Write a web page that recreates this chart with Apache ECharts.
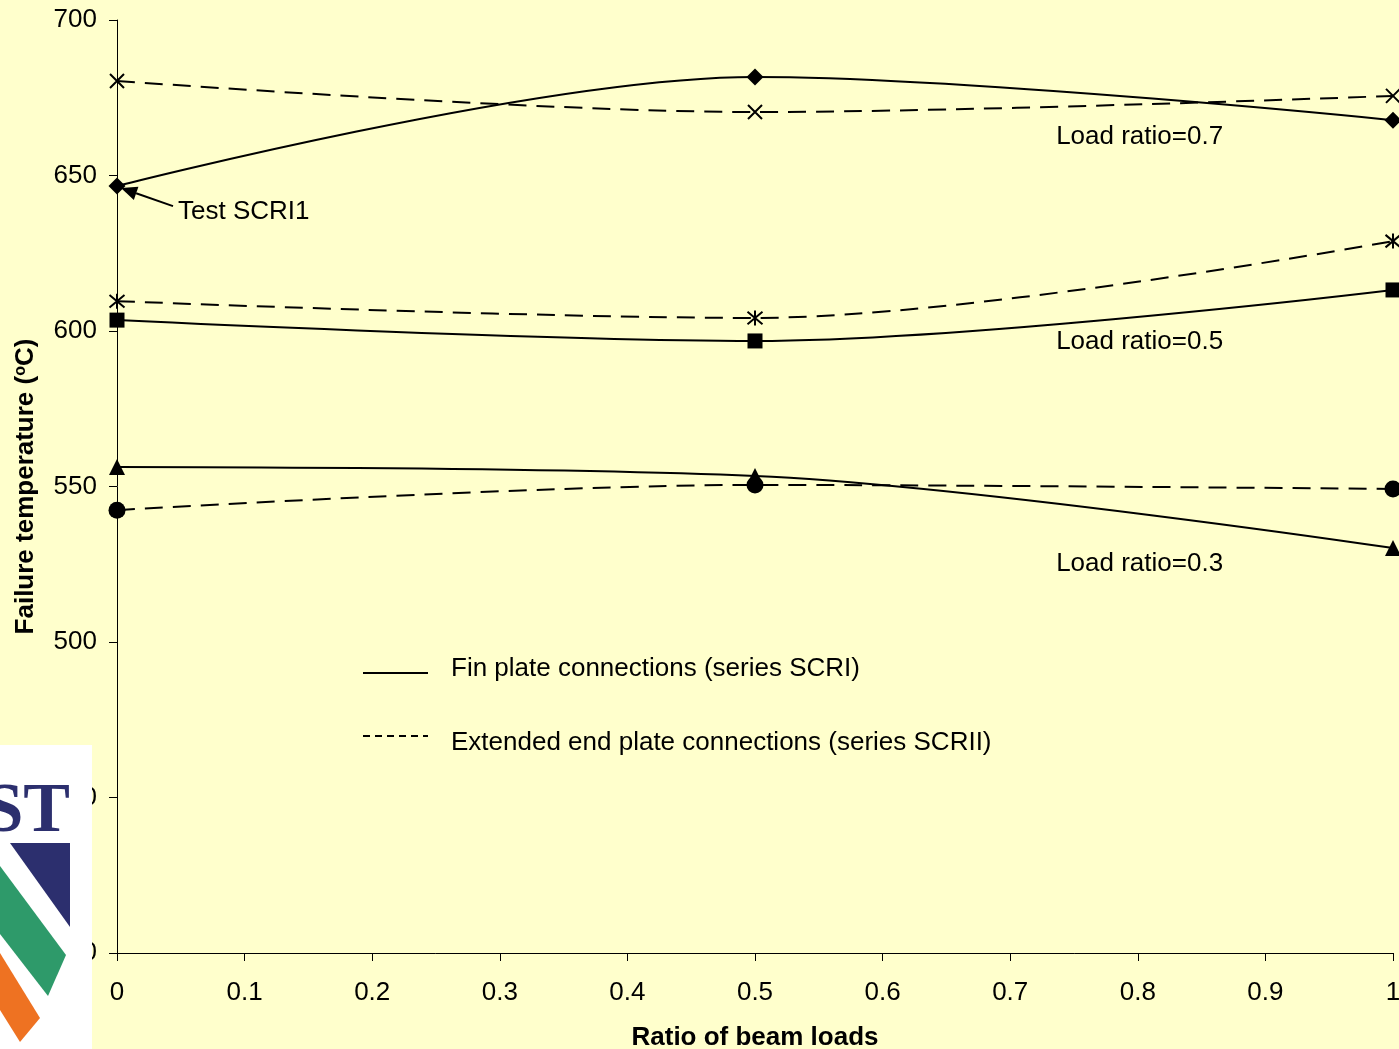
<!DOCTYPE html>
<html><head><meta charset="utf-8">
<script src="https://cdn.jsdelivr.net/npm/echarts@6/dist/echarts.min.js"></script>
<style>html,body{margin:0;padding:0;background:#FFFFCC}#c{width:1399px;height:1049px}</style>
</head><body><div id="c"></div>
<script>
// ---- data ----
const xValues = [0, 0.5, 1];
const finLR07 = [646.6, 681.7, 667.8];   // diamonds, solid
const extLR07 = [680.4, 670.4, 675.6];   // crosses, dashed
const finLR05 = [603.5, 596.8, 613.2];   // squares, solid
const extLR05 = [609.6, 604.2, 628.9];   // asterisks, dashed
const finLR03 = [556.3, 553.4, 530.2];   // triangles, solid
const extLR03 = [542.4, 550.5, 549.2];   // circles, dashed
const xTickLabels = ['0','0.1','0.2','0.3','0.4','0.5','0.6','0.7','0.8','0.9','1'];
const yRange = [400, 700];
const loadRatioLabels = ['Load ratio=0.7', 'Load ratio=0.5', 'Load ratio=0.3'];
const loadRatioAnchors = [[0.736, 662.3], [0.736, 596.4], [0.736, 525.1]];
const legendNames = ['Fin plate connections (series SCRI)', 'Extended end plate connections (series SCRII)'];
const testLabel = 'Test SCRI1';

const FONT = "'Liberation Sans', Arial, sans-serif";
const pts = arr => xValues.map((x, i) => [x, arr[i]]);
const CROSS = 'path://M0 0L10 10M10 0L0 10';
const STAR = 'path://M0 0L10 10M10 0L0 10M5 -1L5 11';

function mk(name, arr, dashed, symbol, size, stroke) {
  return {
    name, type: 'line', data: pts(arr), smooth: 0.33,
    symbol, symbolSize: size, showSymbol: true,
    lineStyle: { color: '#000', width: 2, type: dashed ? [18, 10] : 'solid' },
    itemStyle: stroke ? { color: 'rgba(0,0,0,0)', borderColor: '#000', borderWidth: 2 } : { color: '#000', borderWidth: 0 },
    emphasis: { disabled: true }, animation: false, z: dashed ? 3 : 2
  };
}

const chart = echarts.init(document.getElementById('c'), null, { renderer: 'canvas' });
chart.setOption({
  backgroundColor: '#FFFFCC',
  animation: false,
  grid: { left: 117, right: 6, top: 20, bottom: 96, containLabel: false, outerBoundsMode: 'none' },
  xAxis: {
    type: 'value', min: 0, max: 1, interval: 0.1,
    name: 'Ratio of beam loads', nameLocation: 'middle', nameGap: 72,
    nameTextStyle: { fontFamily: FONT, fontSize: 26, fontWeight: 'bold', color: '#000' },
    axisLine: { show: true, lineStyle: { color: '#000', width: 1 } },
    axisTick: { show: true, length: 8, lineStyle: { color: '#000' } },
    axisLabel: { margin: 27, fontFamily: FONT, fontSize: 26, color: '#000',
      formatter: v => xTickLabels[Math.round(v * 10)], showMaxLabel: true, showMinLabel: true },
    splitLine: { show: false }
  },
  yAxis: {
    type: 'value', min: yRange[0], max: yRange[1], interval: 50,
    name: '{a|Failure temperature (}{s|o}{a|C)}', nameLocation: 'middle', nameGap: 78,
    nameTextStyle: { fontFamily: FONT, fontSize: 26, fontWeight: 'bold', color: '#000',
      rich: { a: { fontFamily: FONT, fontSize: 26, fontWeight: 'bold', color: '#000' },
              s: { fontFamily: FONT, fontSize: 16, fontWeight: 'bold', color: '#000', verticalAlign: 'top', padding: [0,0,10,0] } } },
    axisLine: { show: true, lineStyle: { color: '#000', width: 1 } },
    axisTick: { show: true, length: 8, lineStyle: { color: '#000' } },
    axisLabel: { margin: 20, fontFamily: FONT, fontSize: 26, color: '#000' },
    splitLine: { show: false }
  },
  series: [
    mk('fin07', finLR07, false, 'diamond', 17, false),
    mk('fin05', finLR05, false, 'rect', 15, false),
    mk('fin03', finLR03, false, 'triangle', 16, false),
    mk('ext07', extLR07, true, CROSS, 14, true),
    mk('ext05', extLR05, true, STAR, 15, true),
    mk('ext03', extLR03, true, 'circle', 17, false)
  ]
});

// ---- annotations, legend, logo ----
const P = (x, y) => chart.convertToPixel({ gridIndex: 0 }, [x, y]);
const g = [];
loadRatioLabels.forEach((t, i) => {
  const p = P(loadRatioAnchors[i][0], loadRatioAnchors[i][1]);
  g.push({ type: 'text', x: p[0], y: p[1], style: { text: t, font: '26px ' + FONT, fill: '#000', textVerticalAlign: 'middle' }, z: 50 });
});
// Test SCRI1 arrow
const tip = P(xValues[0], finLR07[0]);
const tx = tip[0] + 4, ty = tip[1] + 2;
const sx = tip[0] + 56, sy = tip[1] + 20;
const ang = Math.atan2(sy - ty, sx - tx);
const hl = 16, hw = 7;
const bx = tx + hl * Math.cos(ang), by = ty + hl * Math.sin(ang);
g.push({ type: 'line', shape: { x1: sx, y1: sy, x2: bx, y2: by }, style: { stroke: '#000', lineWidth: 2 }, z: 50 });
g.push({ type: 'polygon', shape: { points: [[tx, ty], [bx - hw * Math.sin(ang), by + hw * Math.cos(ang)], [bx + hw * Math.sin(ang), by - hw * Math.cos(ang)]] }, style: { fill: '#000' }, z: 50 });
g.push({ type: 'text', x: tip[0] + 61, y: tip[1] + 26, style: { text: testLabel, font: '26px ' + FONT, fill: '#000', textVerticalAlign: 'middle' }, z: 50 });
// legend
g.push({ type: 'line', shape: { x1: 363, y1: 673, x2: 428, y2: 673 }, style: { stroke: '#000', lineWidth: 2 }, z: 50 });
g.push({ type: 'line', shape: { x1: 363, y1: 736, x2: 428, y2: 736 }, style: { stroke: '#000', lineWidth: 2, lineDash: [7, 5] }, z: 50 });
g.push({ type: 'text', x: 451, y: 669, style: { text: legendNames[0], font: '26px ' + FONT, fill: '#000', textVerticalAlign: 'middle' }, z: 50 });
g.push({ type: 'text', x: 451, y: 743, style: { text: legendNames[1], font: '26px ' + FONT, fill: '#000', textVerticalAlign: 'middle' }, z: 50 });
// logo
g.push({ type: 'rect', shape: { x: 0, y: 745, width: 92, height: 304 }, style: { fill: '#FFFFFF' }, z: 90 });
g.push({ type: 'text', x: 70, y: 848, style: { text: 'ST', font: 'bold 70px "Liberation Serif", "Times New Roman", serif', fill: '#2C2F6E', textAlign: 'right', textVerticalAlign: 'bottom' }, z: 91 });
g.push({ type: 'polygon', shape: { points: [[10, 843], [70, 843], [70, 927]] }, style: { fill: '#2C2F6E' }, z: 91 });
g.push({ type: 'polygon', shape: { points: [[0, 866], [66, 955], [48, 996], [0, 934]] }, style: { fill: '#2E9A6A' }, z: 91 });
g.push({ type: 'polygon', shape: { points: [[0, 953], [40, 1018], [20, 1042], [0, 1010]] }, style: { fill: '#EE7222' }, z: 91 });
chart.setOption({ graphic: g });
</script></body></html>
